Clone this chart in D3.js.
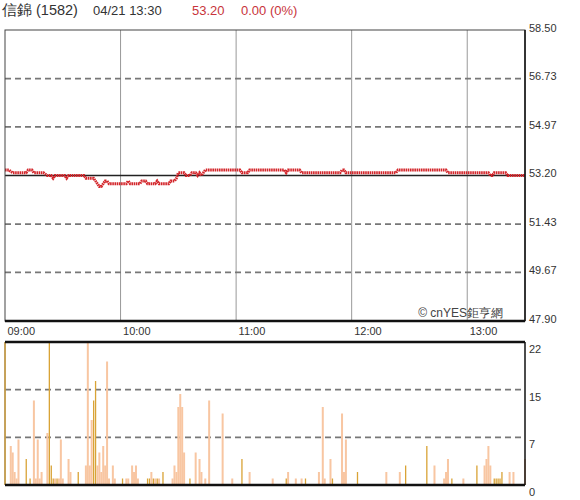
<!DOCTYPE html>
<html>
<head>
<meta charset="utf-8">
<script src="https://cdn.jsdelivr.net/npm/d3@7"></script>
<style>
  body { margin: 0; background: #fff; }
  svg { font-family: "Liberation Sans", Arial, sans-serif; }
</style>
</head>
<body>
<div id="chart"></div>
<script>
// header
const stockName = "信錦 (1582)";
const stamp = "04/21 13:30";
const lastPrice = "53.20";
const change = "0.00 (0%)";

// axes
const hourMinutes = [0, 60, 120, 180, 240];
const hourLabels = ["09:00", "10:00", "11:00", "12:00", "13:00"];
const priceTicks = [47.90, 49.67, 51.43, 53.20, 54.97, 56.73, 58.50];
const refPrice = 53.20;
const volTicks = [0, 22 / 3, 44 / 3, 22];

// price line, minutes after 09:00 and price
const priceMin = [0, 2, 4, 11, 12, 14, 15, 20, 22, 24, 25, 26, 31, 32, 33, 36, 41, 42, 46, 47, 48, 49, 50, 51, 52, 53, 54, 63, 64, 65, 70, 71, 73, 74, 78, 79, 80, 85, 86, 88, 89, 90, 93, 94, 96, 97, 99, 100, 101, 102, 103, 104, 122, 123, 126, 127, 145, 146, 147, 153, 154, 174, 175, 176, 177, 203, 204, 229, 230, 251, 252, 253, 254, 260, 261, 270];
const priceVal = [53.4, 53.4, 53.3, 53.3, 53.4, 53.4, 53.3, 53.3, 53.2, 53.2, 53.1, 53.2, 53.2, 53.1, 53.2, 53.2, 53.2, 53.1, 53.1, 53.0, 52.9, 52.8, 52.8, 52.9, 53.0, 53.0, 52.9, 52.9, 53.0, 52.9, 52.9, 53.0, 53.0, 52.9, 52.9, 53.0, 52.9, 52.9, 53.0, 53.0, 53.1, 53.3, 53.3, 53.2, 53.2, 53.3, 53.3, 53.2, 53.3, 53.2, 53.3, 53.4, 53.4, 53.3, 53.3, 53.4, 53.4, 53.3, 53.4, 53.4, 53.3, 53.3, 53.4, 53.4, 53.3, 53.3, 53.4, 53.4, 53.3, 53.3, 53.2, 53.2, 53.3, 53.3, 53.2, 53.2];

// volume bars (1 = dark gold, 0 = light)
const volMin = [0, 3, 4, 5, 6, 7, 11, 13, 15, 16, 17, 18, 19, 22, 23, 24, 25, 26, 27, 28, 29, 30, 33, 34, 38, 42, 43, 44, 45, 46, 47, 48, 49, 50, 51, 52, 53, 54, 56, 57, 61, 63, 64, 66, 67, 68, 69, 74, 75, 76, 77, 78, 79, 80, 82, 87, 88, 89, 90, 91, 92, 93, 96, 99, 101, 102, 104, 106, 113, 118, 123, 127, 139, 146, 147, 151, 154, 156, 163, 165, 166, 169, 170, 175, 176, 177, 183, 198, 205, 208, 219, 223, 228, 229, 230, 232, 238, 245, 249, 250, 251, 252, 254, 255, 256, 257, 258, 262, 264, 270];
const volVal = [22, 6, 5, 2, 1, 7, 4, 1, 13, 1, 7, 1, 2, 8, 22, 3, 1, 1, 1, 1, 7, 1, 4, 2, 2, 3, 22, 3, 10, 13, 16, 3, 5, 2, 6, 3, 19, 1, 3, 1, 1, 1, 1, 3, 2, 3, 1, 1, 1, 2, 1, 1, 1, 1, 2, 1, 3, 2, 12, 14, 12, 5, 1, 5, 4, 2, 1, 13, 11, 1, 4, 2, 1, 1, 2, 1, 1, 1, 2, 12, 1, 4, 1, 11, 2, 7, 2, 2, 2, 3, 6, 3, 1, 2, 4, 1, 1, 3, 3, 4, 6, 3, 1, 1, 1, 1, 2, 2, 2, 4];
const volKind = [1, 0, 0, 0, 0, 0, 1, 1, 0, 0, 0, 0, 0, 0, 1, 1, 1, 0, 1, 0, 0, 0, 0, 0, 1, 0, 0, 0, 0, 1, 1, 0, 0, 0, 0, 0, 0, 0, 0, 0, 1, 0, 0, 0, 0, 0, 0, 1, 1, 0, 1, 0, 1, 0, 1, 0, 0, 0, 0, 0, 0, 0, 1, 0, 0, 0, 0, 0, 0, 0, 1, 0, 0, 1, 0, 0, 0, 1, 0, 0, 0, 0, 1, 0, 0, 0, 1, 0, 0, 1, 1, 0, 0, 0, 0, 1, 0, 1, 0, 0, 0, 0, 1, 1, 1, 1, 1, 0, 0, 0];

const width = 580, height = 500;
const left = 5, right = 525;

const svg = d3.select("#chart").append("svg")
  .attr("width", width)
  .attr("height", height);

// header text
const head = svg.append("g").style("font-size", "14px");
head.append("text").attr("x", 2).attr("y", 15).attr("fill", "#333").style("font-size", "14.5px").text(stockName);
head.append("text").attr("x", 93).attr("y", 15).attr("fill", "#333").style("font-size", "13px").text(stamp);
head.append("text").attr("x", 192).attr("y", 15).attr("fill", "#c8343b").style("font-size", "13px").text(lastPrice);
head.append("text").attr("x", 241).attr("y", 15).attr("fill", "#c8343b").style("font-size", "13px").text(change);

const x = d3.scaleLinear().domain([0, 270]).range([left, right]);
const yP = d3.scaleLinear().domain([47.9, 58.5]).range([321, 30]);
const yV = d3.scaleLinear().domain([0, 22]).range([485, 342]);

// ---- price panel ----
svg.append("g")
  .selectAll("line")
  .data(hourMinutes.slice(1))
  .enter().append("line")
  .attr("x1", d => x(d)).attr("x2", d => x(d))
  .attr("y1", yP(58.5)).attr("y2", yP(47.9))
  .attr("stroke", "#999").attr("stroke-width", 1);

svg.append("g")
  .selectAll("line")
  .data(priceTicks.filter(d => d > 47.9 && d < 58.5 && d !== refPrice))
  .enter().append("line")
  .attr("x1", left).attr("x2", right)
  .attr("y1", d => yP(d)).attr("y2", d => yP(d))
  .attr("stroke", "#777").attr("stroke-width", 1.6)
  .attr("stroke-dasharray", "6,4");

svg.append("line")
  .attr("x1", left).attr("x2", right)
  .attr("y1", yP(refPrice)).attr("y2", yP(refPrice))
  .attr("stroke", "#222").attr("stroke-width", 1.5);

const line = d3.line()
  .x((d, i) => x(priceMin[i]))
  .y(d => yP(d));

svg.append("path")
  .datum(priceVal)
  .attr("d", line)
  .attr("fill", "none")
  .attr("stroke", "#d3262b")
  .attr("stroke-width", 2.8)
  .attr("stroke-dasharray", "1.6,0.6");

// price frame
svg.append("rect")
  .attr("x", left).attr("y", yP(58.5))
  .attr("width", right - left).attr("height", yP(47.9) - yP(58.5))
  .attr("fill", "none").attr("stroke", "#444").attr("stroke-width", 1);
svg.append("line")
  .attr("x1", left).attr("x2", right)
  .attr("y1", yP(47.9)).attr("y2", yP(47.9))
  .attr("stroke", "#111").attr("stroke-width", 2.5);
svg.append("line")
  .attr("x1", right).attr("x2", right)
  .attr("y1", yP(58.5)).attr("y2", yP(47.9))
  .attr("stroke", "#111").attr("stroke-width", 1.5);

const pAxis = svg.append("g")
  .attr("transform", `translate(${right},0)`)
  .call(d3.axisRight(yP).tickValues(priceTicks).tickSize(0).tickPadding(4).tickFormat(d3.format(".2f")));
pAxis.select(".domain").remove();
pAxis.selectAll("text").attr("fill", "#333").style("font-size", "11px").attr("dy", "0.1em");

const tAxis = svg.append("g")
  .attr("transform", `translate(0,${yP(47.9)})`)
  .call(d3.axisBottom(x).tickValues(hourMinutes).tickSize(0).tickPadding(4)
    .tickFormat((d, i) => hourLabels[i]));
tAxis.select(".domain").remove();
tAxis.selectAll("text").attr("fill", "#333").style("font-size", "11px")
  .attr("text-anchor", "start").attr("dx", 2).attr("dy", "0.9em");

svg.append("text")
  .attr("x", 503).attr("y", 317)
  .attr("text-anchor", "end")
  .attr("fill", "#444")
  .style("font-size", "12px")
  .text("© cnYES鉅亨網");

// ---- volume panel ----
svg.append("line")
  .attr("x1", left).attr("x2", left)
  .attr("y1", yV(22)).attr("y2", yV(0))
  .attr("stroke", "#444").attr("stroke-width", 1);

svg.append("g")
  .selectAll("line")
  .data(volTicks.slice(1, 3))
  .enter().append("line")
  .attr("x1", left).attr("x2", right)
  .attr("y1", d => yV(d)).attr("y2", d => yV(d))
  .attr("stroke", "#777").attr("stroke-width", 1.6)
  .attr("stroke-dasharray", "6,4");

svg.append("g")
  .selectAll("rect")
  .data(volVal)
  .enter().append("rect")
  .attr("x", (d, i) => x(volMin[i]) - (volKind[i] ? 0.6 : 1))
  .attr("width", (d, i) => volKind[i] ? 1.3 : 2)
  .attr("y", d => yV(d))
  .attr("height", d => yV(0) - yV(d))
  .attr("fill", (d, i) => volKind[i] ? "#d9a336" : "#f8c6a2");

svg.append("line")
  .attr("x1", left).attr("x2", right)
  .attr("y1", yV(22)).attr("y2", yV(22))
  .attr("stroke", "#111").attr("stroke-width", 2.5);
svg.append("line")
  .attr("x1", left).attr("x2", right)
  .attr("y1", yV(0)).attr("y2", yV(0))
  .attr("stroke", "#111").attr("stroke-width", 2.5);
svg.append("line")
  .attr("x1", right).attr("x2", right)
  .attr("y1", yV(22)).attr("y2", yV(0))
  .attr("stroke", "#111").attr("stroke-width", 1.5);

const vAxis = svg.append("g")
  .attr("transform", `translate(${right},0)`)
  .call(d3.axisRight(yV).tickValues(volTicks).tickSize(0).tickPadding(4).tickFormat(d3.format(".0f")));
vAxis.select(".domain").remove();
vAxis.selectAll("text").attr("fill", "#333").style("font-size", "11px").attr("dy", "0.95em");
</script>
</body>
</html>
